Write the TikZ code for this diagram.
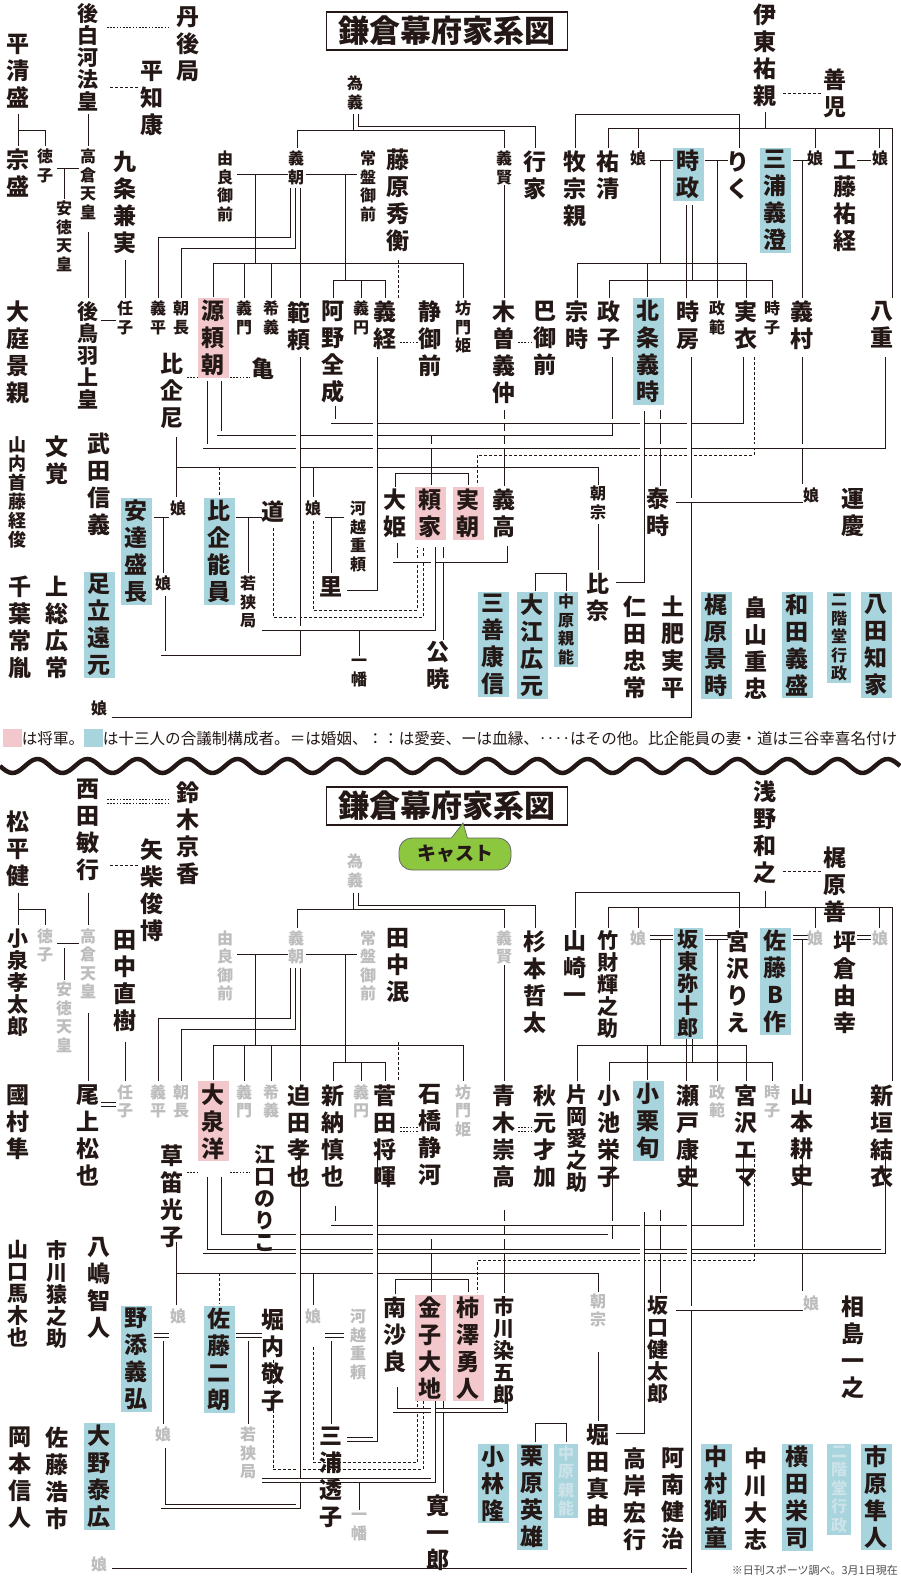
\documentclass[tikz,border=0pt]{standalone}
\usepackage{fontspec}
\usepackage{graphicx}
\setmainfont{Noto Sans CJK JP}
\usetikzlibrary{calc}
\definecolor{pinkc}{HTML}{F2C8CC}
\definecolor{bluec}{HTML}{A8D4DD}
\definecolor{txt}{HTML}{231815}
\definecolor{lgray}{HTML}{BDBDBD}
\definecolor{cgreen}{HTML}{8DC63F}
\definecolor{ghost}{HTML}{CBE3E9}
\let\VEnd\relax
\def\VV#1{\ifx#1\VEnd\else\hbox to 1em{\hss#1\hss}\expandafter\VV\fi}
\newcommand\V[1]{\vbox{\VV#1\VEnd}}
\newcounter{nd}
\def\Y#1{#1}
\def\q#1#2{(#1,{\Y{#2}})}
\newcommand\Nm[4][]{\stepcounter{nd}\node[#1] (n\arabic{nd}) at (#2,{\Y{#3}}) {\V{#4}};}
\tikzset{
 base/.style={anchor=north, inner sep=1pt, text=txt},
 L/.style={base, font=\fontsize{23}{27}\selectfont\bfseries},
 Lc/.style={base, font=\fontsize{21}{22}\selectfont\bfseries},
 M/.style={base, font=\fontsize{18}{19}\selectfont\bfseries},
 S/.style={base, font=\fontsize{16}{18.5}\selectfont\bfseries},
 g/.style={text=lgray},
 pk/.style={fill=pinkc, inner xsep=4pt, inner ysep=2pt},
 bl/.style={fill=bluec, inner xsep=4pt, inner ysep=2pt},
 bld/.style={draw=txt, line width=0.9pt},
 mr/.style={draw=txt, line width=0.8pt, double=white, double distance=3.4pt},
 ai/.style={draw=txt, line width=0.8pt, double=white, double distance=3.4pt, dash pattern=on 1.6pt off 1.6pt},
 ot/.style={draw=txt, line width=0.9pt, dash pattern=on 3pt off 2pt},
 ttl/.style={draw=txt, line width=1.3pt, text=txt, font=\fontsize{31}{31}\selectfont\bfseries, inner xsep=12pt, minimum height=38pt}
}
\newcommand\conns{%
\draw[ai] \q{107}{25}--\q{170}{25};
\draw[ot] \q{110}{87}--\q{138}{87};
\draw[ot] \q{783}{93}--\q{822}{93};
\draw[bld] \q{18}{114}--\q{18}{146};
\draw[bld] \q{18}{130}--\q{45}{130}--\q{45}{146};
\draw[bld] \q{64}{168}--\q{64}{199};
\draw[bld] \q{88}{114}--\q{88}{146};
\draw[bld] \q{88}{232}--\q{88}{298};
\draw[bld] \q{125}{260}--\q{125}{298};
\draw[bld] \q{353}{114}--\q{353}{130}--\q{297}{130}--\q{297}{148};
\draw[bld] \q{353}{130}--\q{504}{130}--\q{504}{148};
\draw[bld] \q{358}{114}--\q{358}{126}--\q{535}{126}--\q{535}{148};
\draw[bld] \q{255}{174}--\q{255}{263};
\draw[bld] \q{213}{297}--\q{213}{263}--\q{463}{263}--\q{463}{298};
\draw[bld] \q{244}{263}--\q{244}{298};
\draw[bld] \q{271}{263}--\q{271}{298};
\draw[bld] \q{290}{188}--\q{290}{237}--\q{158}{237}--\q{158}{298};
\draw[bld] \q{295}{188}--\q{295}{248}--\q{181}{248}--\q{181}{298};
\draw[bld] \q{300}{188}--\q{300}{298};
\draw[bld] \q{345}{174}--\q{345}{280};
\draw[bld] \q{333}{298}--\q{333}{280}--\q{385}{280}--\q{385}{298};
\draw[bld] \q{361}{280}--\q{361}{298};
\draw[ot] \q{398}{260}--\q{398}{298};
\draw[bld] \q{504}{185}--\q{504}{298};
\draw[bld] \q{765}{112}--\q{765}{128};
\draw[bld] \q{608}{148}--\q{608}{128}--\q{892}{128}--\q{892}{298};
\draw[bld] \q{638}{128}--\q{638}{148};
\draw[bld] \q{815}{128}--\q{815}{148};
\draw[bld] \q{879}{128}--\q{879}{148};
\draw[bld] \q{575}{148}--\q{575}{114}--\q{739}{114}--\q{739}{148};
\draw[bld] \q{660}{160}--\q{660}{263};
\draw[bld] \q{577}{298}--\q{577}{263}--\q{746}{263}--\q{746}{298};
\draw[bld] \q{647}{263}--\q{647}{297};
\draw[bld] \q{686}{205}--\q{686}{298};
\draw[bld] \q{692}{205}--\q{692}{280};
\draw[bld] \q{609}{298}--\q{609}{280}--\q{772}{280}--\q{772}{298};
\draw[bld] \q{717}{160}--\q{717}{298};
\draw[bld] \q{802}{160}--\q{802}{298};
\draw[bld] \q{176}{437}--\q{176}{497};
\draw[bld] \q{176}{467}--\q{598}{467}--\q{598}{485};
\draw[bld] \q{313}{467}--\q{313}{497};
\draw[ot] \q{219}{467}--\q{219}{496};
\draw[bld] \q{431}{434}--\q{431}{485};
\draw[bld] \q{395}{487}--\q{395}{473}--\q{468}{473}--\q{468}{485};
\draw[bld] \q{504}{410}--\q{504}{486};
\draw[ot] \q{754}{357}--\q{754}{455}--\q{477}{455}--\q{477}{485};
\draw[bld] \q{660}{410}--\q{660}{486};
\draw[bld] \q{802}{357}--\q{802}{484};
\draw[bld] \q{598}{524}--\q{598}{570};
\draw[bld] \q{535}{591}--\q{535}{573}--\q{566}{573}--\q{566}{591};
\draw[bld] \q{248}{518}--\q{248}{573};
\draw[bld] \q{331}{518}--\q{331}{573};
\draw[bld] \q{163}{518}--\q{163}{573};
\draw[bld] \q{359}{630}--\q{359}{656};
\draw[bld] \q{443}{547}--\q{443}{640};
\draw[ot] \q{313}{521}--\q{313}{610}--\q{417}{610}--\q{417}{547};
\draw[ot] \q{273}{528}--\q{273}{617}--\q{423}{617}--\q{423}{547};
\draw[ai] \q{187}{375}--\q{199}{375};
\draw[ai] \q{230}{375}--\q{250}{375};
\draw[ai] \q{400}{340}--\q{418}{340};
\draw[ai] \q{518}{340}--\q{532}{340};
\draw[mr] \q{57}{166}--\q{79}{166};
\draw[mr] \q{101}{318}--\q{116}{318};
\draw[mr] \q{237}{172}--\q{288}{172};
\draw[mr] \q{306}{172}--\q{357}{172};
\draw[mr] \q{650}{158}--\q{673}{158};
\draw[mr] \q{705}{158}--\q{728}{158};
\draw[mr] \q{793}{158}--\q{809}{158};
\draw[mr] \q{857}{158}--\q{871}{158};
\draw[mr] \q{205}{381}--\q{205}{446}--\q{883}{446}--\q{883}{357};
\draw[mr] \q{219}{381}--\q{219}{433}--\q{610}{433}--\q{610}{357};
\draw[mr] \q{333}{406}--\q{333}{421}--\q{741}{421}--\q{741}{357};
\draw[mr] \q{375}{357}--\q{375}{588}--\q{347}{588};
\draw[mr] \q{298}{357}--\q{298}{653}--\q{163}{653}--\q{163}{596};
\draw[mr] \q{689}{357}--\q{689}{715}--\q{112}{715};
\draw[mr] \q{642}{411}--\q{642}{580}--\q{616}{580};
\draw[mr] \q{395}{543}--\q{395}{560}--\q{505}{560}--\q{505}{546};
\draw[mr] \q{262}{628}--\q{433}{628}--\q{433}{547};
\draw[mr] \q{154}{515}--\q{169}{515};
\draw[mr] \q{236}{515}--\q{262}{515};
\draw[mr] \q{325}{515}--\q{344}{515};
\draw[mr] \q{676}{500}--\q{803}{500};
}
\begin{document}
\begin{tikzpicture}[x=1pt,y=-1pt]
\fill[white] (0,0) rectangle (900,1580);
\useasboundingbox (0,0) rectangle (900,1580);
% ===== top half =====
\conns
\node[ttl] (t1) at (447,31) {鎌倉幕府家系図};
\Nm[L]{18}{33}{平清盛}
\Nm[Lc]{88}{2}{後白河法皇}
\Nm[L]{188}{5}{丹後局}
\Nm[L]{152}{60}{平知康}
\Nm[S]{355}{75}{為義}
\Nm[L]{18}{148}{宗盛}
\Nm[S]{45}{148}{徳子}
\Nm[S]{88}{148}{高倉天皇}
\Nm[S]{64}{200}{安徳天皇}
\Nm[L]{125}{150}{九条兼実}
\Nm[S]{225}{150}{由良御前}
\Nm[S]{296}{150}{義朝}
\Nm[S]{368}{150}{常盤御前}
\Nm[L]{398}{148}{藤原秀衡}
\Nm[S]{504}{150}{義賢}
\Nm[L]{535}{150}{行家}
\Nm[L]{575}{150}{牧宗親}
\Nm[L]{608}{150}{祐清}
\Nm[S]{638}{150}{娘}
\Nm[L,bl]{688}{148}{時政}
\Nm[L]{738}{150}{りく}
\Nm[L,bl]{775}{148}{三浦義澄}
\Nm[S]{815}{150}{娘}
\Nm[L]{845}{150}{工藤祐経}
\Nm[S]{880}{150}{娘}
\Nm[L]{765}{3}{伊東祐親}
\Nm[L]{835}{68}{善児}
\Nm[L]{18}{300}{大庭景親}
\Nm[Lc]{88}{300}{後鳥羽上皇}
\Nm[S]{125}{300}{任子}
\Nm[S]{158}{300}{義平}
\Nm[S]{181}{300}{朝長}
\Nm[L,pk]{213}{298}{源頼朝}
\Nm[S]{244}{300}{義門}
\Nm[S]{271}{300}{希義}
\Nm[L]{299}{300}{範頼}
\Nm[L]{333}{300}{阿野全成}
\Nm[S]{361}{300}{義円}
\Nm[L]{385}{300}{義経}
\Nm[L]{430}{300}{静御前}
\Nm[S]{463}{300}{坊門姫}
\Nm[L]{504}{300}{木曽義仲}
\Nm[L]{545}{300}{巴御前}
\Nm[L]{577}{300}{宗時}
\Nm[L]{609}{300}{政子}
\Nm[L,bl]{648}{298}{北条義時}
\Nm[L]{688}{300}{時房}
\Nm[S]{717}{300}{政範}
\Nm[L]{746}{300}{実衣}
\Nm[S]{772}{300}{時子}
\Nm[L]{802}{300}{義村}
\Nm[L]{882}{300}{八重}
\Nm[L]{172}{352}{比企尼}
\Nm[L]{263}{357}{亀}
\Nm[M]{18}{435}{山内首藤経俊}
\Nm[L]{57}{435}{文覚}
\Nm[L]{99}{432}{武田信義}
\Nm[L,bl]{136}{498}{安達盛長}
\Nm[S]{178}{500}{娘}
\Nm[L,bl]{219}{498}{比企能員}
\Nm[L]{273}{500}{道}
\Nm[S]{313}{500}{娘}
\Nm[S]{358}{500}{河越重頼}
\Nm[L]{395}{488}{大姫}
\Nm[L,pk]{430}{487}{頼家}
\Nm[L,pk]{468}{487}{実朝}
\Nm[L]{504}{488}{義高}
\Nm[S]{598}{485}{朝宗}
\Nm[L]{658}{487}{泰時}
\Nm[S]{811}{487}{娘}
\Nm[L]{853}{487}{運慶}
\Nm[S]{163}{575}{娘}
\Nm[S]{248}{575}{若狭局}
\Nm[L]{331}{575}{里}
\Nm[L]{598}{572}{比奈}
\Nm[L]{20}{575}{千葉常胤}
\Nm[L]{57}{575}{上総広常}
\Nm[L,bl]{99}{572}{足立遠元}
\Nm[S,bl]{566}{592}{中原親能}
\Nm[L,bl]{532}{592}{大江広元}
\Nm[L,bl]{493}{592}{三善康信}
\Nm[L]{635}{595}{仁田忠常}
\Nm[L]{673}{595}{土肥実平}
\Nm[L,bl]{716}{592}{梶原景時}
\Nm[L]{756}{595}{畠山重忠}
\Nm[L,bl]{797}{592}{和田義盛}
\Nm[S,bl]{839}{592}{二階堂行政}
\Nm[L,bl]{876}{592}{八田知家}
\Nm[S]{359}{658}{一幡}
\Nm[L]{438}{640}{公暁}
\Nm[S]{99}{700}{娘}
% legend
\node[anchor=west, inner sep=0, text=txt] (lg) at (3,738) {\resizebox{894pt}{!}{\fontsize{14}{14}\selectfont\textcolor{pinkc}{\rule[-0.12em]{1.2em}{1.1em}}は将軍。\textcolor{bluec}{\rule[-0.12em]{1.2em}{1.1em}}は十三人の合議制構成者。＝は婚姻、：：は愛妾、ーは血縁、‥‥はその他。比企能員の妻・道は三谷幸喜名付け}};
\draw[line width=4.5pt, txt] plot[domain=0:900, samples=300, smooth] (\x,{766+7*sin(\x*7.2)});
% ===== bottom half =====
\def\Y#1{((#1)+776+7*min(1,max(0,(#1)/297))+22*min(1,max(0,((#1)-297)/143))+3*min(1,max(0,((#1)-440)/60))+42*min(1,max(0,((#1)-500)/50))+6*min(1,max(0,((#1)-550)/170)))}
\conns
\node[ttl] (t2) at (447,806) {鎌倉幕府家系図};
\fill[cgreen, draw=black!60, line width=0.8pt] (450,840)--(463,823)--(468,840)--cycle;
\node[fill=cgreen, draw=black!60, line width=0.8pt, rounded corners=13pt, text=txt, font=\fontsize{19}{19}\selectfont\bfseries, minimum width=112pt, minimum height=32pt] (cast) at (455,854) {キャスト};
\fill[cgreen] (451,839)--(463,825)--(467,839)--cycle;
\Nm[L]{18}{33}{松平健}
\Nm[L]{88}{2}{西田敏行}
\Nm[L]{188}{5}{鈴木京香}
\Nm[L]{152}{60}{矢柴俊博}
\Nm[S,g]{355}{75}{為義}
\Nm[Lc]{18}{148}{小泉孝太郎}
\Nm[S,g]{45}{148}{徳子}
\Nm[S,g]{88}{148}{高倉天皇}
\Nm[S,g]{64}{200}{安徳天皇}
\Nm[L]{125}{150}{田中直樹}
\Nm[S,g]{225}{150}{由良御前}
\Nm[S,g]{296}{150}{義朝}
\Nm[S,g]{368}{150}{常盤御前}
\Nm[L]{398}{148}{田中泯}
\Nm[S,g]{504}{150}{義賢}
\Nm[L]{535}{150}{杉本哲太}
\Nm[L]{575}{150}{山崎一}
\Nm[Lc]{608}{150}{竹財輝之助}
\Nm[S,g]{638}{150}{娘}
\Nm[Lc,bl]{688}{148}{坂東弥十郎}
\Nm[L]{738}{150}{宮沢りえ}
\Nm[L,bl]{775}{148}{佐藤B作}
\Nm[S,g]{815}{150}{娘}
\Nm[L]{845}{150}{坪倉由幸}
\Nm[S,g]{880}{150}{娘}
\Nm[L]{765}{3}{浅野和之}
\Nm[L]{835}{68}{梶原善}
\Nm[L]{18}{300}{國村隼}
\Nm[L]{88}{300}{尾上松也}
\Nm[S,g]{125}{300}{任子}
\Nm[S,g]{158}{300}{義平}
\Nm[S,g]{181}{300}{朝長}
\Nm[L,pk]{213}{298}{大泉洋}
\Nm[S,g]{244}{300}{義門}
\Nm[S,g]{271}{300}{希義}
\Nm[L]{299}{300}{迫田孝也}
\Nm[L]{333}{300}{新納慎也}
\Nm[S,g]{361}{300}{義円}
\Nm[L]{385}{300}{菅田将暉}
\Nm[L]{430}{300}{石橋静河}
\Nm[S,g]{463}{300}{坊門姫}
\Nm[L]{504}{300}{青木崇高}
\Nm[L]{545}{300}{秋元才加}
\Nm[Lc]{577}{300}{片岡愛之助}
\Nm[L]{609}{300}{小池栄子}
\Nm[L,bl]{648}{298}{小栗旬}
\Nm[L]{688}{300}{瀬戸康史}
\Nm[S,g]{717}{300}{政範}
\Nm[L]{746}{300}{宮沢エマ}
\Nm[S,g]{772}{300}{時子}
\Nm[L]{802}{300}{山本耕史}
\Nm[L]{882}{300}{新垣結衣}
\Nm[L]{172}{352}{草笛光子}
\Nm[Lc]{265}{352}{江口のりこ}
\Nm[Lc]{18}{435}{山口馬木也}
\Nm[Lc]{57}{435}{市川猿之助}
\Nm[L]{99}{432}{八嶋智人}
\Nm[L,bl]{136}{498}{野添義弘}
\Nm[S,g]{178}{500}{娘}
\Nm[L,bl]{219}{498}{佐藤二朗}
\Nm[L]{273}{500}{堀内敬子}
\Nm[S,g]{313}{500}{娘}
\Nm[S,g]{358}{500}{河越重頼}
\Nm[L]{395}{488}{南沙良}
\Nm[L,pk]{430}{487}{金子大地}
\Nm[L,pk]{468}{487}{柿澤勇人}
\Nm[Lc]{504}{488}{市川染五郎}
\Nm[S,g]{598}{485}{朝宗}
\Nm[Lc]{658}{487}{坂口健太郎}
\Nm[S,g]{811}{487}{娘}
\Nm[L]{853}{487}{相島一之}
\Nm[S,g]{163}{575}{娘}
\Nm[S,g]{248}{575}{若狭局}
\Nm[L]{331}{575}{三浦透子}
\Nm[L]{598}{572}{堀田真由}
\Nm[L]{20}{575}{岡本信人}
\Nm[L]{57}{575}{佐藤浩市}
\Nm[L,bl]{99}{572}{大野泰広}
\Nm[S,bl,text=ghost]{566}{592}{中原親能}
\Nm[L,bl]{532}{592}{栗原英雄}
\Nm[L,bl]{493}{592}{小林隆}
\Nm[L]{635}{595}{高岸宏行}
\Nm[L]{673}{595}{阿南健治}
\Nm[L,bl]{716}{592}{中村獅童}
\Nm[L]{756}{595}{中川大志}
\Nm[L,bl]{797}{592}{横田栄司}
\Nm[S,bl,text=ghost]{839}{592}{二階堂行政}
\Nm[L,bl]{876}{592}{市原隼人}
\Nm[S,g]{359}{658}{一幡}
\Nm[L]{438}{640}{寛一郎}
\Nm[S,g]{99}{700}{娘}
\node[anchor=east, inner sep=0, text=black!70, font=\fontsize{11}{11}\selectfont] (fn) at (898,1570) {※日刊スポーツ調べ。3月1日現在};
\end{tikzpicture}
\end{document}
